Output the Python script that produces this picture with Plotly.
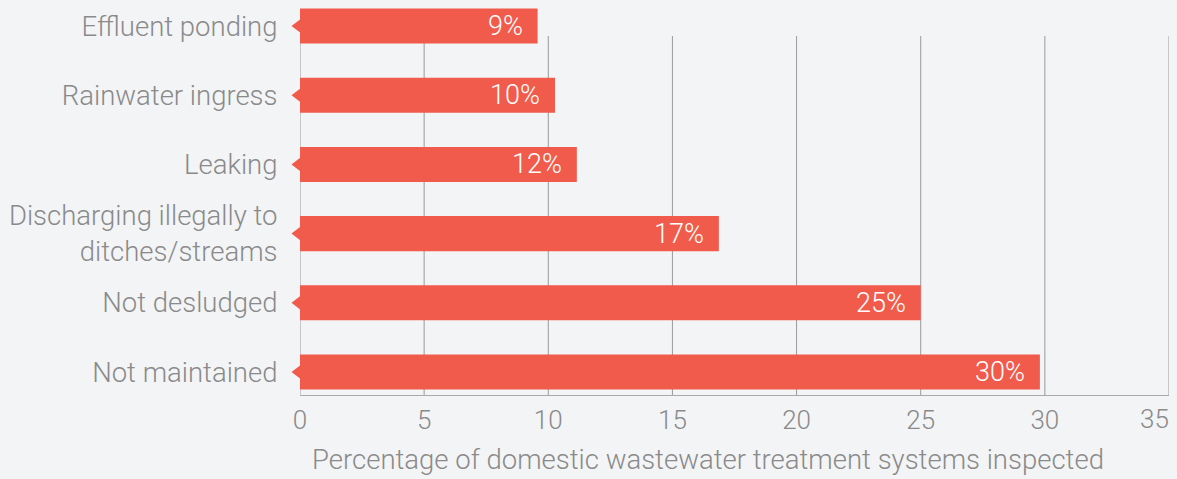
import plotly.graph_objects as go

categories = ["Not maintained", "Not desludged", "Discharging illegally to<br>ditches/streams",
              "Leaking", "Rainwater ingress", "Effluent ponding"]
values = [29.8, 25.0, 16.87, 11.15, 10.27, 9.57]
value_labels = ["30%", "25%", "17%", "12%", "10%", "9%"]
x_ticks = [0, 5, 10, 15, 20, 25, 30, 35]
x_tick_text = ["0", "5", "10", "15", "20", "25", "30", ""]
x_title = "Percentage of domestic wastewater treatment systems inspected"

BAR = "#F15B4C"
TXT = "#8a8a8a"
BG = "#F3F4F6"
FONT = "Roboto"

idx = list(range(len(categories)))

fig = go.Figure()
fig.add_trace(go.Scatter(
    x=[0] * len(idx), y=idx, mode="markers", cliponaxis=False,
    marker=dict(symbol="triangle-left", size=17, color=BAR, line=dict(width=0)),
    hoverinfo="skip",
))
fig.add_trace(go.Bar(
    x=values, y=idx, orientation="h", width=0.506,
    marker=dict(color=BAR, line=dict(width=0)),
    hoverinfo="skip",
))

annotations = []
for i, (v, lab) in enumerate(zip(values, value_labels)):
    annotations.append(dict(
        x=v, y=i, xref="x", yref="y", text=lab, showarrow=False,
        xanchor="right", yanchor="middle", xshift=-13,
        font=dict(family=FONT, size=27, color="white", weight=300),
    ))
# last tick label kept inside the figure, right-aligned to the axis end
annotations.append(dict(
    x=x_ticks[-1], y=0, xref="x", yref="paper", text=str(x_ticks[-1]), showarrow=False,
    xanchor="right", yanchor="middle", xshift=2, yshift=-24,
    font=dict(family=FONT, size=26, color=TXT, weight=300),
))
# axis title
annotations.append(dict(
    x=0.4695, y=0, xref="paper", yref="paper", text=x_title, showarrow=False,
    xanchor="center", yanchor="middle", yshift=-64,
    font=dict(family=FONT, size=27.5, color=TXT, weight=300),
))

shapes = []
grid_top = (395 - 36) / 393
for t in x_ticks:
    shapes.append(dict(type="line", xref="x", yref="y domain", x0=t, x1=t, y0=0, y1=grid_top,
                       line=dict(color="#9a9a9a", width=1), layer="below"))

fig.update_layout(
    width=1177, height=479,
    margin=dict(l=300, r=8, t=2, b=84),
    paper_bgcolor=BG, plot_bgcolor=BG,
    showlegend=False,
    font=dict(family=FONT, color=TXT, weight=300),
    annotations=annotations,
    shapes=shapes,
    xaxis=dict(
        range=[0, 35], tickvals=x_ticks, ticktext=x_tick_text, showgrid=False, zeroline=False,
        showline=True, linecolor="#aaaaaa", linewidth=1,
        ticks="outside", ticklen=2, tickcolor="rgba(0,0,0,0)",
        tickfont=dict(family=FONT, size=26, color=TXT, weight=300),
        fixedrange=True,
    ),
    yaxis=dict(
        range=[-0.332, 5.347], tickvals=idx, ticktext=categories,
        showgrid=False, zeroline=False, showline=False,
        ticks="outside", ticklen=16, tickcolor="rgba(0,0,0,0)",
        tickfont=dict(family=FONT, size=27.5, color=TXT, weight=300),
        fixedrange=True,
    ),
)

fig.write_html("out.html", config={"displayModeBar": False},
               post_script="document.body.style.margin='0';document.body.style.overflow='hidden';")
